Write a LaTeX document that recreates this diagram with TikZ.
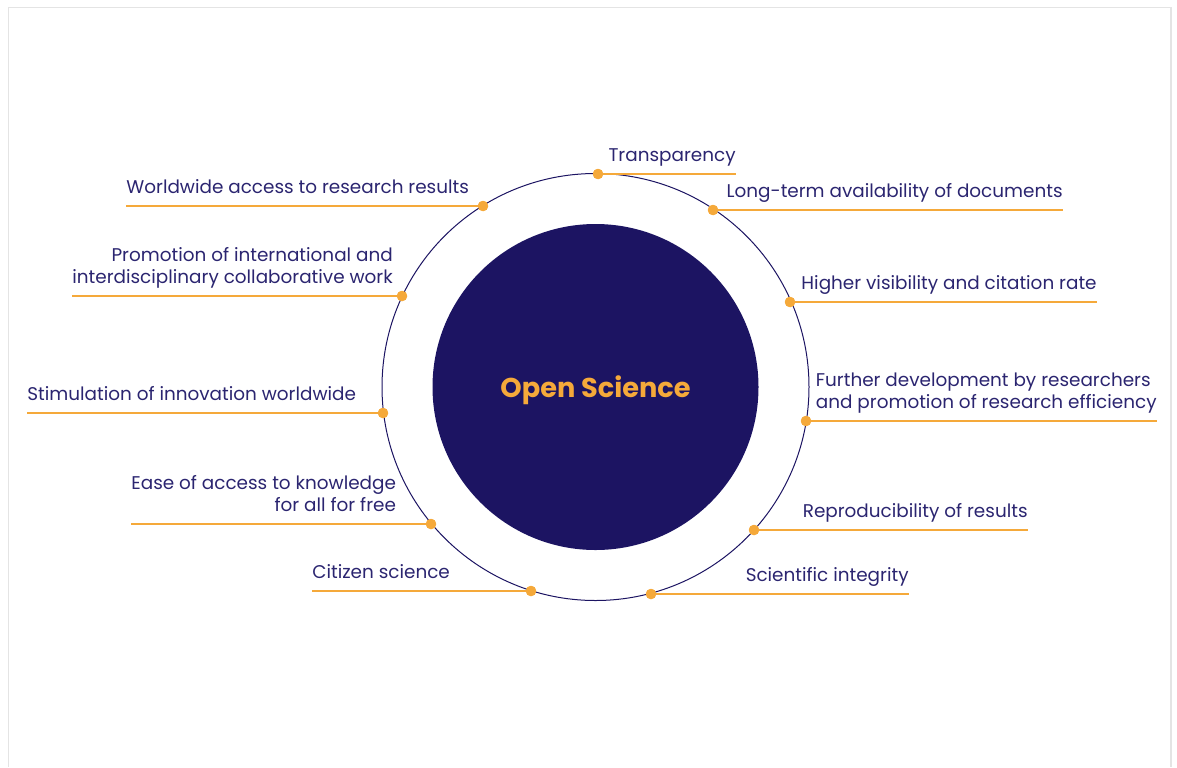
\documentclass[tikz,border=0pt]{standalone}
\usepackage{fontspec}
\setmainfont{Poppins}
\definecolor{osnavy}{HTML}{1C1462}
\definecolor{ostext}{HTML}{2B2570}
\definecolor{osorange}{HTML}{F5A93A}
\definecolor{osframe}{HTML}{E4E4E4}
\tikzset{
  ring/.style={draw=osnavy, line width=0.5pt},
  core/.style={circle, fill=osnavy, minimum size=163pt, inner sep=0pt},
  leader/.style={draw=osorange, line width=0.55pt},
  dot/.style={circle, fill=osorange, minimum size=5.2pt, inner sep=0pt},
  benefit/.style={inner sep=0pt, text=ostext, font=\fontsize{9.2}{11}\selectfont,
    execute at end node=\strut},
}
\begin{document}
\begin{tikzpicture}[x=0.5pt,y=-0.5pt]
\useasboundingbox (0,0) rectangle (1177,767);
\draw[osframe, line width=0.8pt] (8.5,767) -- (8.5,7.5) -- (1171,7.5) -- (1171,767);

\draw[ring] (595.5,387) circle (213.5);
\node[core] (os) at (595.5,387) {};
\node[text=osorange, font=\fontsize{13.6}{16}\bfseries] (title) at (595.5,390) {Open Science};

% benefits on the right, text flush with the end of the leader
\foreach [count=\i] \dx/\dy/\ex/\txt in {
  598/174/736/Transparency,
  713/210/1063/Long-term availability of documents,
  790/302/1097/Higher visibility and citation rate,
  806/421/1157/{Further development by researchers\\and promotion of research efficiency},
  754/530/1028/Reproducibility of results,
  651/594/909/Scientific integrity} {
  \node[dot] (r\i) at (\dx,\dy) {};
  \coordinate (re\i) at (\ex,\dy);
  \draw[leader] (r\i.center) -- (re\i);
  \node[dot] at (r\i) {};
  \node[benefit, align=left, anchor=south east] (rt\i) at ([yshift=3pt]re\i) {\txt};
}

% benefits on the left
\foreach [count=\i] \dx/\dy/\sx/\txt in {
  483/206/126/Worldwide access to research results,
  402/296/72/{Promotion of international and\\interdisciplinary collaborative work},
  383/413/27/Stimulation of innovation worldwide,
  431/524/131/{Ease of access to knowledge\\for all for free},
  531/591/312/Citizen science} {
  \node[dot] (l\i) at (\dx,\dy) {};
  \coordinate (ls\i) at (\sx,\dy);
  \draw[leader] (ls\i) -- (l\i.center);
  \node[dot] at (l\i) {};
  \node[benefit, align=right, anchor=south west] (lt\i) at ([yshift=3pt]ls\i) {\txt};
}
\end{tikzpicture}
\end{document}
